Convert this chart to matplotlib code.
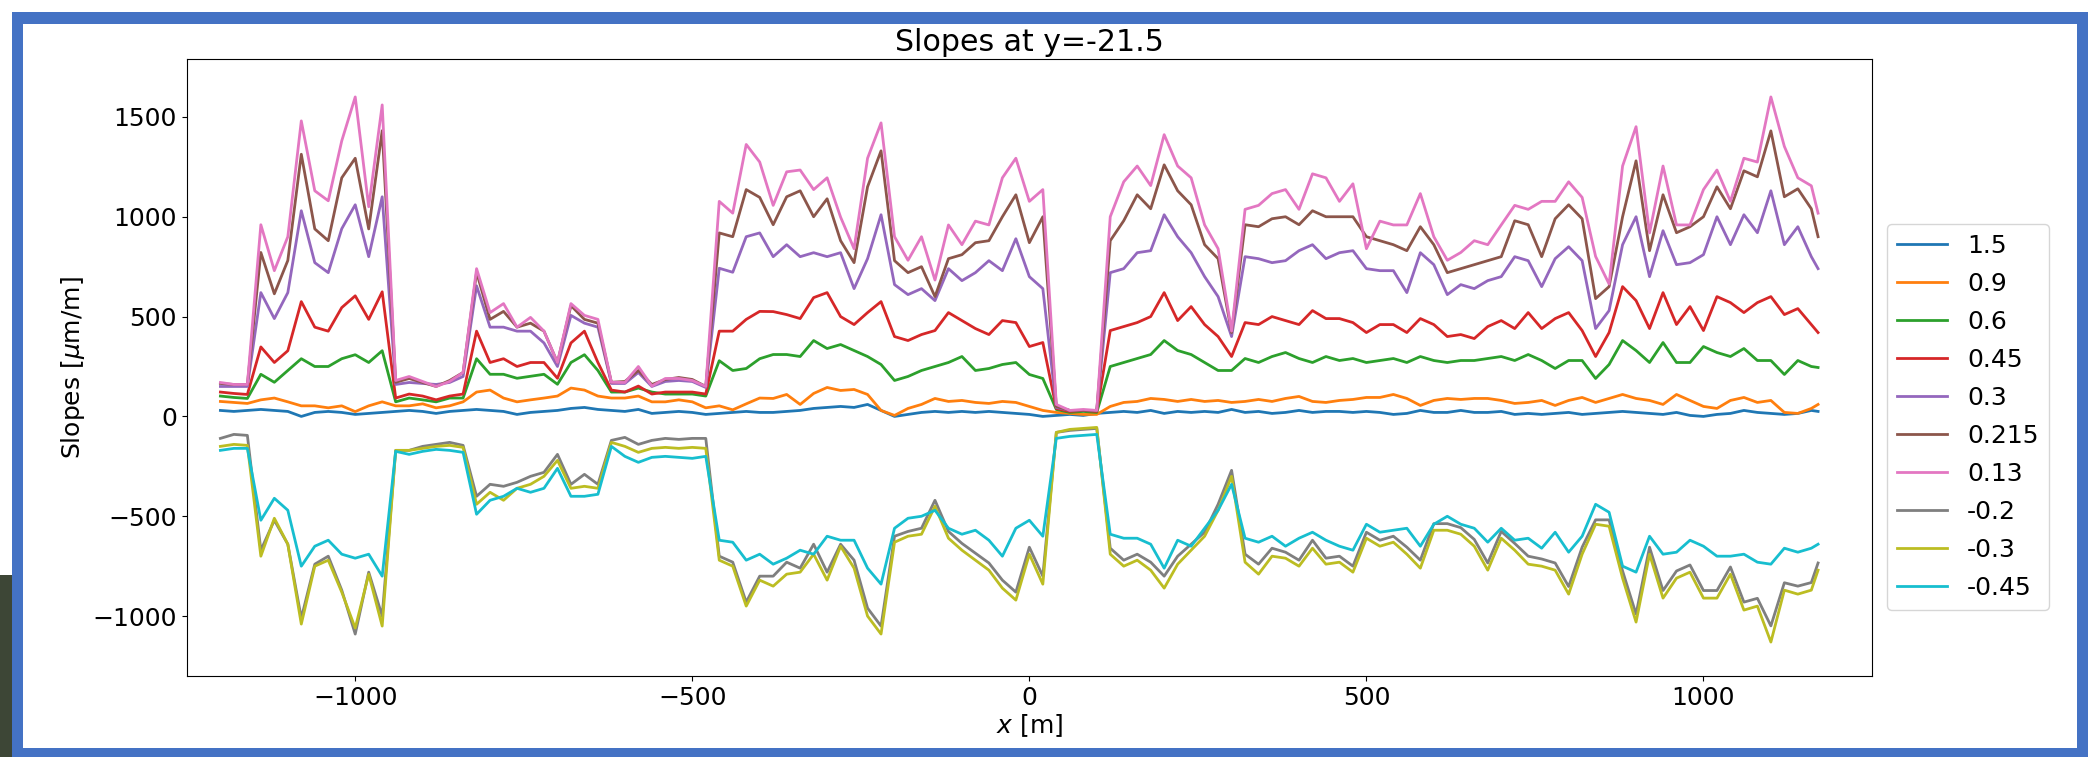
import matplotlib
matplotlib.use("Agg")
import matplotlib.pyplot as plt
from matplotlib.patches import Rectangle

# sampling positions along x [m]
x_m = list(range(-1200, 1161, 20)) + [1170]

labels = ["1.5", "0.9", "0.6", "0.45", "0.3", "0.215", "0.13", "-0.2", "-0.3", "-0.45"]

s_1p5 = [30, 25, 30, 35, 30, 25, 0, 20, 25, 20,
         10, 15, 20, 25, 30, 25, 15, 25, 30, 35,
         30, 25, 10, 20, 25, 30, 40, 45, 35, 30,
         25, 35, 15, 20, 25, 20, 10, 15, 20, 25,
         20, 20, 25, 30, 40, 45, 50, 45, 60, 30,
         0, 10, 20, 25, 20, 25, 20, 25, 20, 15,
         10, 0, 5, 10, 5, 15, 20, 25, 20, 30,
         15, 25, 20, 25, 20, 35, 20, 25, 15, 20,
         30, 20, 25, 25, 20, 25, 20, 10, 15, 30,
         20, 20, 30, 20, 20, 25, 10, 15, 10, 15,
         20, 10, 15, 20, 25, 20, 15, 10, 20, 5,
         0, 10, 15, 30, 20, 15, 10, 15, 30, 25]

s_0p9 = [75, 70, 65, 83, 92, 73, 53, 53, 43, 53,
         24, 53, 73, 53, 53, 63, 43, 53, 73, 122,
         132, 92, 73, 83, 92, 102, 142, 132, 102, 92,
         92, 102, 73, 73, 83, 73, 43, 53, 33, 63,
         92, 90, 110, 60, 115, 145, 130, 135, 110, 30,
         5, 40, 60, 90, 75, 80, 70, 65, 75, 70,
         50, 30, 20, 15, 10, 10, 50, 70, 75, 90,
         85, 75, 85, 75, 80, 70, 75, 85, 75, 90,
         100, 75, 70, 80, 85, 95, 95, 110, 90, 55,
         80, 90, 85, 90, 90, 80, 65, 70, 80, 55,
         80, 95, 70, 90, 110, 90, 80, 60, 110, 80,
         50, 40, 80, 95, 70, 80, 20, 15, 40, 60]

s_0p6 = [102, 95, 90, 211, 171, 230, 289, 250, 250, 289,
         309, 270, 329, 73, 92, 83, 73, 92, 92, 289,
         211, 211, 191, 201, 211, 161, 270, 309, 230, 122,
         122, 142, 122, 112, 112, 112, 102, 279, 230, 240,
         289, 310, 310, 300, 380, 340, 360, 330, 300, 260,
         180, 200, 230, 250, 270, 300, 230, 240, 260, 270,
         210, 190, 35, 20, 25, 20, 250, 270, 290, 310,
         380, 330, 310, 270, 230, 230, 290, 270, 300, 320,
         290, 270, 300, 280, 290, 270, 280, 290, 270, 300,
         280, 270, 280, 280, 290, 300, 280, 310, 280, 240,
         280, 280, 190, 260, 380, 330, 270, 370, 270, 270,
         350, 320, 300, 340, 280, 280, 210, 280, 250, 245]

s_0p45 = [122, 115, 110, 348, 270, 329, 575, 447, 427, 545,
          604, 486, 624, 92, 112, 102, 83, 102, 112, 427,
          270, 289, 250, 270, 270, 191, 368, 427, 270, 132,
          122, 152, 112, 122, 122, 122, 112, 427, 427, 486,
          526, 525, 510, 490, 595, 620, 500, 460, 520, 575,
          400, 380, 410, 430, 520, 480, 440, 410, 480, 470,
          350, 370, 40, 25, 30, 25, 430, 450, 470, 500,
          620, 480, 550, 460, 400, 300, 470, 460, 500, 480,
          460, 530, 490, 490, 470, 420, 460, 460, 420, 490,
          460, 400, 410, 390, 450, 480, 440, 520, 440, 490,
          520, 430, 300, 420, 650, 580, 440, 620, 460, 550,
          430, 600, 570, 520, 570, 600, 510, 540, 460, 420]

s_0p3 = [150, 150, 150, 620, 490, 620, 1030, 770, 720, 940,
         1060, 800, 1100, 160, 170, 165, 160, 170, 200, 654,
         447, 447, 427, 427, 368, 250, 506, 467, 447, 165,
         165, 220, 150, 175, 180, 175, 145, 742, 722, 900,
         919, 800, 860, 800, 820, 800, 820, 640, 790, 1010,
         660, 610, 640, 580, 740, 680, 720, 780, 730, 890,
         700, 640, 45, 30, 30, 30, 720, 740, 820, 830,
         1010, 900, 820, 700, 600, 400, 800, 790, 770, 780,
         830, 860, 790, 820, 830, 740, 730, 730, 620, 820,
         760, 610, 660, 640, 680, 700, 800, 780, 650, 790,
         850, 780, 440, 530, 860, 1000, 700, 930, 760, 770,
         810, 1000, 860, 1010, 920, 1130, 860, 950, 800, 740]

s_0p215 = [165, 160, 160, 821, 614, 781, 1313, 939, 880, 1195,
           1293, 939, 1431, 171, 190, 170, 150, 180, 220, 722,
           486, 526, 447, 467, 427, 270, 555, 486, 467, 171,
           175, 230, 160, 185, 195, 185, 150, 919, 900, 1136,
           1097, 960, 1100, 1130, 1000, 1090, 880, 770, 1150, 1330,
           780, 720, 750, 600, 790, 810, 870, 880, 1000, 1110,
           870, 1000, 50, 30, 30, 30, 880, 980, 1110, 1040,
           1260, 1130, 1060, 860, 790, 420, 960, 950, 990, 1000,
           960, 1030, 1000, 1000, 1000, 900, 880, 860, 830, 950,
           860, 720, 740, 760, 780, 800, 980, 960, 800, 990,
           1060, 990, 590, 650, 1000, 1280, 830, 1110, 920, 950,
           1000, 1150, 1040, 1230, 1200, 1430, 1100, 1140, 1040, 900]

s_0p13 = [170, 160, 160, 960, 730, 900, 1480, 1130, 1080, 1380,
          1600, 1050, 1560, 180, 200, 175, 150, 175, 220, 740,
          520, 565, 447, 496, 427, 270, 565, 506, 486, 171,
          170, 250, 152, 190, 190, 180, 150, 1077, 1018, 1362,
          1274, 1057, 1225, 1234, 1136, 1195, 998, 840, 1293, 1470,
          900, 782, 900, 683, 959, 860, 978, 959, 1195, 1293,
          1077, 1136, 60, 30, 35, 30, 1000, 1175, 1254, 1156,
          1411, 1254, 1195, 959, 840, 427, 1037, 1057, 1116, 1136,
          1037, 1215, 1195, 1077, 1165, 840, 978, 959, 959, 1116,
          900, 782, 821, 880, 860, 959, 1057, 1037, 1077, 1077,
          1175, 1097, 801, 663, 1254, 1451, 919, 1254, 959, 959,
          1136, 1234, 1077, 1293, 1274, 1600, 1352, 1195, 1155, 1018]

s_m0p2 = [-110, -90, -95, -670, -520, -640, -1010, -740, -700, -870,
          -1090, -780, -1000, -170, -170, -150, -140, -130, -145, -400,
          -340, -350, -330, -300, -280, -190, -340, -290, -340, -120,
          -105, -140, -120, -110, -115, -110, -110, -700, -730, -930,
          -800, -800, -730, -760, -640, -780, -640, -720, -960, -1050,
          -600, -576, -560, -420, -576, -636, -685, -734, -820, -880,
          -655, -800, -80, -70, -65, -60, -660, -720, -690, -730,
          -800, -700, -640, -580, -440, -270, -690, -740, -660, -680,
          -720, -620, -710, -700, -750, -580, -620, -600, -655, -720,
          -537, -537, -557, -616, -734, -576, -636, -700, -714, -734,
          -852, -655, -518, -518, -774, -990, -655, -872, -774, -744,
          -872, -872, -754, -930, -911, -1049, -833, -850, -832, -734]

s_m0p3 = [-150, -140, -145, -700, -510, -640, -1040, -750, -720, -880,
          -1060, -790, -1050, -170, -170, -160, -150, -145, -155, -440,
          -380, -420, -360, -340, -300, -220, -360, -350, -360, -130,
          -150, -180, -160, -155, -160, -155, -160, -720, -750, -950,
          -820, -850, -790, -780, -690, -820, -650, -760, -1000, -1090,
          -630, -600, -590, -450, -610, -670, -720, -770, -860, -920,
          -690, -840, -80, -65, -60, -55, -690, -750, -720, -770,
          -860, -740, -670, -600, -470, -300, -730, -790, -700, -710,
          -750, -660, -740, -730, -780, -610, -650, -630, -690, -760,
          -570, -570, -590, -650, -770, -610, -670, -740, -750, -770,
          -890, -690, -540, -550, -810, -1030, -690, -910, -810, -780,
          -910, -910, -790, -970, -950, -1130, -870, -890, -870, -770]

s_m0p45 = [-170, -160, -160, -520, -410, -470, -750, -650, -620, -690,
           -710, -690, -800, -175, -190, -175, -165, -170, -180, -490,
           -420, -400, -360, -380, -360, -260, -400, -400, -390, -150,
           -200, -230, -205, -200, -205, -210, -200, -620, -630, -720,
           -690, -740, -710, -670, -690, -600, -620, -620, -760, -840,
           -560, -510, -500, -470, -560, -590, -570, -620, -700, -560,
           -520, -600, -110, -100, -95, -90, -590, -610, -610, -640,
           -760, -620, -650, -560, -470, -340, -610, -630, -600, -650,
           -610, -580, -620, -650, -670, -540, -580, -570, -560, -650,
           -540, -500, -540, -560, -630, -560, -620, -610, -660, -580,
           -680, -600, -440, -480, -750, -780, -600, -690, -680, -620,
           -650, -700, -700, -690, -730, -740, -660, -680, -660, -640]

series = [s_1p5, s_0p9, s_0p6, s_0p45, s_0p3, s_0p215, s_0p13, s_m0p2, s_m0p3, s_m0p45]

plt.rcParams['font.size'] = 18

W, H = 2088, 757
fig = plt.figure(figsize=(W / 100, H / 100), dpi=100)

# slide frame around the picture
def px_rect(x0, y0, x1, y1, color):
    return Rectangle((x0 / W, 1 - y1 / H), (x1 - x0) / W, (y1 - y0) / H,
                     transform=fig.transFigure, facecolor=color,
                     edgecolor='none', zorder=-10)

fig.patches.append(px_rect(0, 575, 12, 757, '#3d4636'))
fig.patches.append(px_rect(12, 12, 2088, 757, '#4472c4'))
fig.patches.append(px_rect(23, 24, 2077, 748, 'white'))

ax = fig.add_axes([186.7 / W, 1 - 676 / H, (1872 - 186.7) / W, (676 - 59) / H])

for vals, lab in zip(series, labels):
    ax.plot(x_m, vals, lw=2.0, label=lab)

ax.set_xlim(-1250, 1250)
ax.set_ylim(-1300, 1790)
ax.set_xticks([-1000, -500, 0, 500, 1000])
ax.set_yticks([-1000, -500, 0, 500, 1000, 1500])
ax.set_title('Slopes at y=-21.5')
ax.set_xlabel(r'$x$ [m]', labelpad=2)
ax.set_ylabel(r'Slopes [$\mu$m/m]')

ax.legend(loc='center left', bbox_to_anchor=(1887 / W, 1 - 417 / H),
          bbox_transform=fig.transFigure, borderaxespad=0, labelspacing=0.56)

fig.savefig('out.png', dpi=100)
